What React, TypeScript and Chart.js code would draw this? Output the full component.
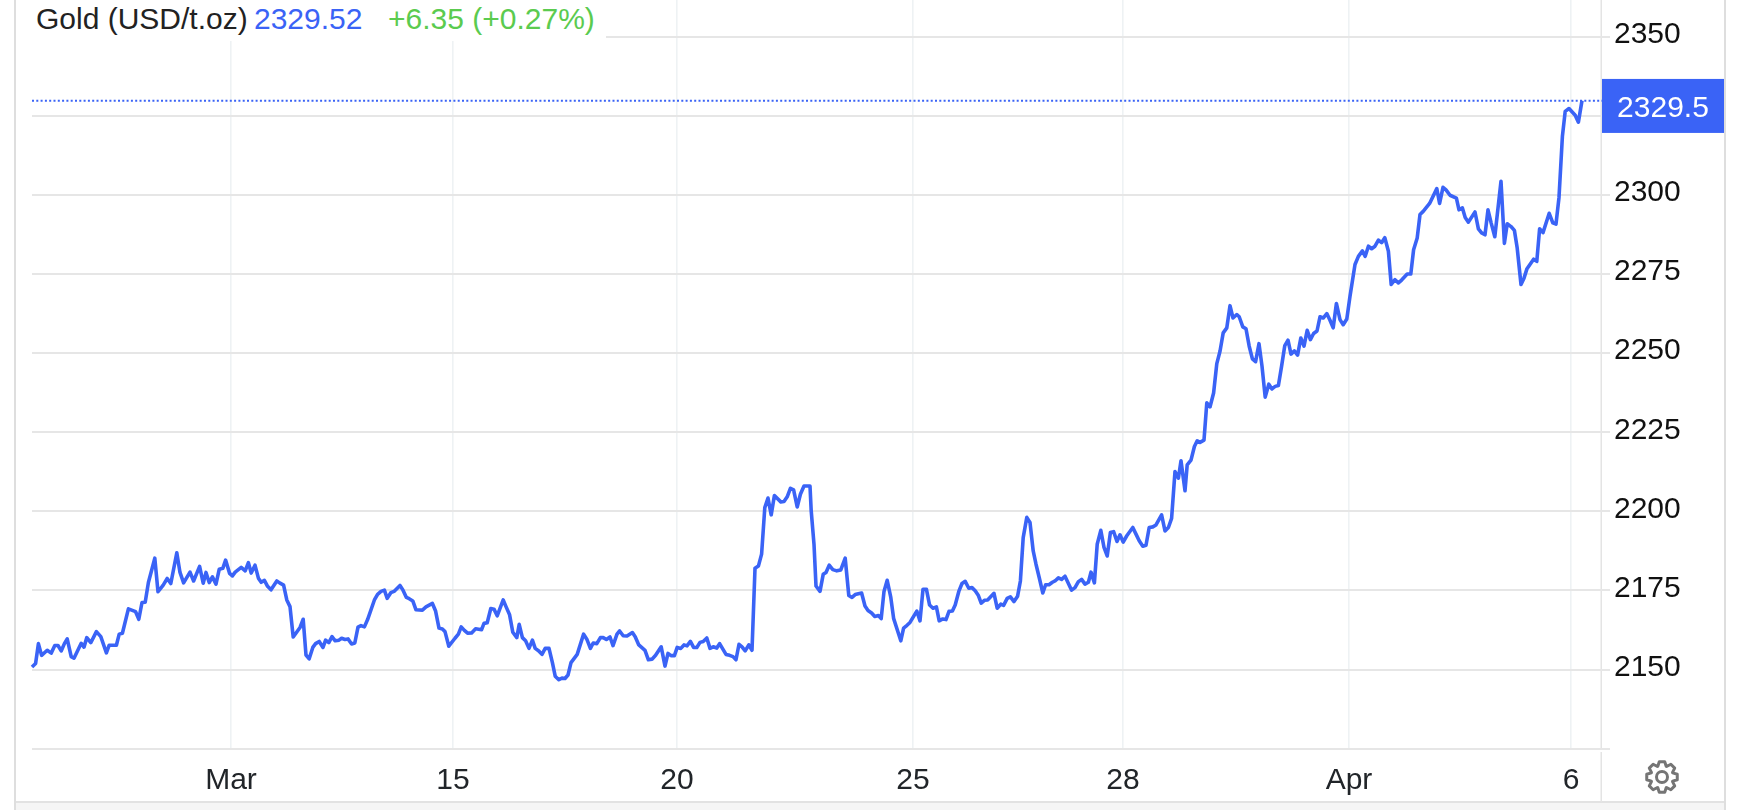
import React, { useEffect, useRef } from "react";
import { Chart, registerables } from "chart.js";

Chart.register(...registerables);

// [position on the time axis, price in USD/t.oz]
const seriesA: [number, number][] = [
  [0,2150.8],[0.9,2151.9],[1.6,2158.2],[2.4,2154.5],[3.8,2156.1],[4.8,2155.2],[5.7,2157.6],[6.5,2157.6],[7.3,2155.9],[8.1,2158.2],
  [8.8,2159.7],[9.8,2154.1],[10.5,2153.6],[12.3,2158.3],[13,2157.1],[13.7,2160.1],[14.7,2158.5],[16.1,2162],[17.2,2160.4],[18.6,2155.3],
  [19.3,2157.7],[21.1,2157.7],[21.8,2161.2],[22.6,2161.5],[24.1,2169.2],[25.9,2168.3],[26.7,2165.9],[27.5,2171.2],[28.3,2171.3],[29.1,2177.5],
  [30.7,2185.2],[31.5,2174.6],[32.8,2176.7],[33.8,2178.8],[34.7,2177.2],[36.2,2186.9],[37,2180.7],[37.9,2177.4],[39.5,2180.8],[40.4,2178],
  [41.9,2182.6],[42.8,2177.3],[43.5,2180.7],[44.3,2177.5],[45.1,2179.3],[46,2177],[46.8,2181.7],[47.7,2182],[48.4,2184.6],[49.4,2180.4],
];
const seriesB: [number, number][] = [
  [50.1,2179.6],[50.8,2180.8],[52.3,2182.3],[53.3,2181.2],[54.1,2183.8],[54.8,2180.5],[55.75,2183],[56.6,2178.9],[57.3,2177.6],[58.1,2178.2],
  [58.9,2176.3],[59.75,2175.2],[61.2,2178],[61.9,2177.4],[62.9,2176.7],[63.7,2172],[64.5,2169.9],[65.3,2160.3],[66.2,2161.9],[67,2163.3],
  [67.8,2165.9],[68.5,2154.6],[69.3,2153.4],[70.2,2157],[70.9,2158.2],[71.8,2158.9],[72.75,2157],[73.4,2159.3],[74.2,2158.5],[75,2160.4],
  [75.8,2159.1],[76.75,2159.3],[77.4,2159.9],[78.25,2159.5],[79,2159.7],[79.9,2158.1],[80.7,2158.4],[81.5,2163.4],[82.25,2163.9],[83.1,2163.5],
  [83.9,2165.8],[85.6,2172],[86.4,2173.8],[87.25,2174.7],[88.1,2175.1],[88.8,2172.5],[89.7,2174.3],[90.5,2174.7],[92,2176.6],[92.75,2175.1],
  [93.6,2172.8],[94.3,2172.4],[95.2,2171.7],[96,2168.9],[97.6,2168.8],
];
const seriesC: [number, number][] = [
  [98.5,2169.8],[100.1,2170.9],[100.9,2168.5],[101.75,2163.1],[102.6,2162.8],[103.25,2162],[104.2,2157.4],[105.75,2159.9],[106.6,2161.2],[107.3,2163.5],
  [108.1,2162.4],[108.9,2161.5],[109.9,2161.6],[110.9,2162.9],[112.4,2162.6],[113,2164.6],[113.8,2164.8],[114.7,2169.3],[115.5,2169.1],[116.3,2167],
  [117.8,2172],[118.5,2169.9],[119.4,2167.3],[120.2,2161.8],[121.2,2160.1],[121.8,2164.3],[122.6,2160.1],[123.4,2159.1],[124.25,2156.7],[125.1,2159.3],
  [125.8,2156.7],[126.7,2155.9],[127.5,2154.8],[128.3,2156.7],[129.25,2156.7],[130.1,2152.2],[130.8,2147.9],[131.7,2146.8],[132.5,2147.3],[133.25,2147.2],
  [134,2148.3],[134.75,2152.2],[136.3,2154.8],[137.9,2161.2],[138.7,2159.6],[139.6,2156.7],[140.3,2158.4],[141.2,2158.2],[142.1,2160.1],[142.8,2160.1],
  [143.6,2159.5],[144.5,2160.3],[145.25,2157.6],[146.25,2161.2],
];
const seriesD: [number, number][] = [
  [146.9,2162.2],[147.8,2160.7],[148.75,2160.6],[150.1,2161.7],[150.8,2160.4],[151.7,2157.8],[153.25,2156.1],[154.1,2153.1],[155,2153.3],[155.9,2154.5],
  [157.3,2157.2],[158.25,2151.1],[159,2155.1],[159.75,2154.4],[160.6,2154.4],[161.3,2157],[162.2,2156.7],[163,2157.8],[163.75,2157.5],[164.6,2158.9],
  [165.4,2157],[166.2,2157],[167,2158.6],[167.8,2158.9],[168.7,2160],[169.5,2156.7],[170.3,2157.2],[171.2,2156.8],[171.9,2158.2],[173.5,2154.8],
  [174.4,2154.5],[175.25,2154.1],[176,2153.1],[176.75,2158],[177.5,2157.2],[178.3,2155.9],[179.2,2157.8],[180,2156.1],[180.75,2182],[181.6,2182.7],
  [182.4,2186.5],[183.2,2201.2],[184,2204.2],[184.8,2198.9],[185.6,2205],[187.2,2203],[188,2203.1],[188.8,2204.6],[189.6,2207.3],[190.4,2206.8],
  [191.3,2201.4],[192.1,2205.4],[193,2208],[194.5,2208],
];
const seriesE: [number, number][] = [
  [194.8,2200.2],[195.5,2189.6],[196,2176.4],[197,2174.7],[197.8,2180.1],[198.5,2180.7],[199.3,2183],[200.2,2181.6],[201.2,2181.2],[202.2,2181.5],
  [203.3,2185.2],[204.2,2173.4],[205,2172.8],[205.8,2173.7],[207.4,2174.2],[208.25,2170.1],[209,2168.7],[209.9,2167.9],[210.7,2166.8],[211.6,2167.1],
  [212.3,2166.1],[213,2174.7],[213.8,2178.2],[214.7,2172.8],[215.4,2166.2],[217.2,2159.1],[217.9,2163.1],[218.75,2164],[219.5,2164.9],[221.2,2168.5],
  [222,2165.4],[222.75,2175.4],[223.6,2175.4],[224.4,2170.4],[225.25,2169.4],[226.1,2169.8],[226.8,2165.4],[227.7,2166],[228.5,2165.8],[229.25,2168.4],
  [230.1,2168.5],[230.8,2170.4],[231.7,2174.7],[232.5,2177.2],[233.3,2177.9],[234.2,2175.7],[235,2175.9],[235.8,2174.9],[236.6,2173.4],[237.3,2171],
  [238.1,2171.9],[238.9,2172],[240.5,2174.1],[241.3,2169.4],[242.2,2170.7],[242.9,2170.3],[243.8,2172.5],[244.6,2173],
];
const seriesF: [number, number][] = [
  [245.5,2171.5],[246.4,2173.2],[247.1,2178],[247.8,2191.7],[248.7,2198.1],[249.5,2196.5],[250.3,2187.5],[251,2183.3],[251.8,2179.1],[252.7,2174.2],
  [253.4,2176.8],[254.25,2176.8],[255.1,2177.6],[255.75,2178],[256.6,2179],[257.4,2178.5],[258.25,2179.5],[259.9,2175.1],[260.75,2175.9],[261.6,2177.8],
  [262.4,2178.5],[263.25,2177],[264.1,2177.6],[264.75,2180.8],[265.6,2177.4],[266.3,2189.6],[267.2,2194],[268,2188.6],[268.8,2185.9],[269.6,2193.3],
  [270.4,2193.6],[271.25,2190.5],[272,2192.6],[272.8,2190.3],[273.7,2192.3],[275.2,2194.9],[276,2192.8],[276.8,2190.7],[277.7,2189],[278.5,2189.3],
  [279.3,2194.9],[280.2,2195.1],[281,2195.7],[282.4,2198.9],[283.25,2193.8],[284.1,2194.9],[284.9,2197.8],[285.75,2212.6],[286.6,2210.5],[287.25,2216],
  [288.25,2206.5],[288.8,2214.7],[289.75,2216.2],[290.6,2220.5],[291.3,2222.3],
];
const seriesG: [number, number][] = [
  [292,2221.8],[293,2222.5],[293.7,2234.3],[294.5,2233],[295.4,2237.4],[296.2,2246.7],[297,2250.6],[297.8,2256.4],[298.7,2258],[299.5,2265],
  [300.25,2261.1],[301.2,2262.2],[301.8,2261.5],[302.7,2258.3],[303.5,2257.7],[304.3,2252.2],[305.1,2248.2],[305.9,2247.3],[306.75,2253],[307.5,2245.9],
  [308.3,2236.1],[309.2,2240.2],[310,2238.7],[310.8,2239.5],[311.6,2239.8],[312.4,2245.9],[313.2,2252.4],[314,2254.1],[314.75,2249.7],[315.6,2250.7],
  [316.4,2249.4],[317.2,2254.8],[318,2252.2],[318.8,2257.2],[319.6,2254.3],[320.4,2256.2],[321.25,2257],[322,2261.5],[322.8,2261.1],[323.7,2262.5],
  [324.5,2260.4],[325.3,2258],[326.1,2265.7],[327,2260.6],[327.8,2259],[328.7,2260.8],[329.5,2268],[330.75,2278],[331.6,2280.6],[332.6,2282.3],
  [333.3,2280.6],[334.1,2283.8],[334.9,2283],[335.75,2283.8],[336.6,2285.7],[337.4,2284.9],[338.2,2286.5],[339.1,2282.2],[339.8,2271.7],
];
const seriesH: [number, number][] = [
  [340.75,2273.2],[341.6,2272.2],[342.4,2273.1],[343.8,2275],[344.7,2275],[345.4,2282.7],[346.3,2286.4],[347,2293.8],[347.8,2294.8],[349.4,2297.3],
  [351.2,2302],[351.9,2297.3],[352.75,2302.4],[353.5,2301.6],[354.5,2299.9],[356.1,2299],[356.75,2295.3],[357.6,2295.9],[358.3,2292.9],[359.1,2291.4],
  [360.75,2294.6],[361.6,2289.3],[362.4,2288],[363.25,2287.4],[364,2295.3],[364.8,2291.1],[365.7,2286.8],[367.25,2304.3],[368.1,2284.7],[368.8,2290.9],
  [369.75,2290],[370.6,2288.8],[371.3,2283.2],[372.25,2271.7],[373,2273.7],[373.75,2276.7],[375.4,2279.7],[376.2,2279],[376.9,2289.3],[377.75,2288.1],
  [379.3,2294.2],[380.2,2291.2],[381,2290.8],[381.75,2299.2],[382.6,2318.5],[383.3,2326.4],[384.25,2327.3],[385.8,2325.2],[386.6,2323],[387.5,2329.8],
];

const xTickPositions = [49.75, 105.25, 161.25, 220.25, 272.75, 329.25, 384.75];
const xTickLabels = ["Mar", "15", "20", "25", "28", "Apr", "6"];
const yTickValues = [2125, 2150, 2175, 2200, 2225, 2250, 2275, 2300, 2325, 2350];
const yLabelledValues = [2150, 2175, 2200, 2225, 2250, 2275, 2300, 2350];
const lastPriceLine = 2329.8;
const lastPriceTag = "2329.5";
const headerName = "Gold (USD/t.oz)";
const headerPrice = "2329.52";
const headerChange = "+6.35 (+0.27%)";

const BLUE = "#3a63f6";
const FONT = '"Liberation Sans", Arial, sans-serif';

const framePlugin = {
  id: "frame",
  beforeDraw(chart: any) {
    const c = chart.ctx;
    c.save();
    c.fillStyle = "#f5f5f5";
    c.fillRect(15, 802, 1710, 8);
    c.fillStyle = "#e2e2e2";
    c.fillRect(15, 801, 1710, 2);
    c.fillStyle = "#dedede";
    c.fillRect(14, 0, 2, 810);
    c.fillRect(1724, 0, 2, 810);
    c.fillStyle = "#e4e4e4";
    c.fillRect(1600.5, 0, 1.5, 748);
    c.fillRect(1600.5, 752, 1.5, 50);
    c.restore();
  },
  afterDraw(chart: any) {
    const c = chart.ctx;
    const y = chart.scales.y.getPixelForValue(lastPriceLine);
    c.save();
    c.fillStyle = BLUE;
    c.fillRect(1602, y - 21.7, 122, 54);
    c.fillStyle = "#ffffff";
    c.font = `30px ${FONT}`;
    c.textAlign = "center";
    c.textBaseline = "middle";
    c.fillText(lastPriceTag, 1663, y + 8);
    // settings cog
    const cx = 1662, cy = 777, teeth = 8;
    c.strokeStyle = "#757575";
    c.lineWidth = 3;
    c.lineJoin = "round";
    c.beginPath();
    for (let i = 0; i < teeth; i++) {
      const a = (i / teeth) * Math.PI * 2 - Math.PI / 2;
      const s = Math.PI / teeth;
      const pts: [number, number][] = [
        [a - s * 0.95, 11.5], [a - s * 0.45, 15.5], [a + s * 0.45, 15.5], [a + s * 0.95, 11.5],
      ];
      pts.forEach(([t, r], j) => {
        const px = cx + Math.cos(t) * r, py = cy + Math.sin(t) * r;
        if (i === 0 && j === 0) c.moveTo(px, py); else c.lineTo(px, py);
      });
    }
    c.closePath();
    c.stroke();
    c.beginPath();
    c.arc(cx, cy, 5.5, 0, Math.PI * 2);
    c.stroke();
    c.restore();
  },
};

const noEdgePadding = (s: any) => {
  s.paddingTop = 0;
  s.paddingBottom = 0;
  s.paddingLeft = 0;
  s.paddingRight = 0;
};

export default function App() {
  const ref = useRef<HTMLCanvasElement>(null);
  useEffect(() => {
    const points = [...seriesA, ...seriesB, ...seriesC, ...seriesD, ...seriesE, ...seriesF, ...seriesG, ...seriesH];
    const chart = new Chart(ref.current!, {
      type: "line",
      data: {
        datasets: [
          {
            label: "Gold",
            data: points.map(([x, y]) => ({ x, y })),
            borderColor: BLUE,
            borderWidth: 3.6,
            pointRadius: 0,
            tension: 0,
            borderJoinStyle: "round",
            fill: false,
            clip: false,
          },
          {
            label: "Last",
            data: [{ x: 0, y: lastPriceLine }, { x: 392.5, y: lastPriceLine }],
            borderColor: BLUE,
            borderWidth: 2,
            borderDash: [2, 2.3],
            pointRadius: 0,
            fill: false,
            clip: false,
          },
        ],
      },
      options: {
        responsive: false,
        animation: false,
        devicePixelRatio: 1,
        layout: { padding: { left: 32, right: 0, top: 0, bottom: 0 } },
        plugins: { legend: { display: false }, tooltip: { enabled: false } },
        scales: {
          x: {
            type: "linear",
            min: 0,
            max: 391.25,
            afterFit: (s: any) => { s.height = 61.3; noEdgePadding(s); },
            afterBuildTicks: (s: any) => { s.ticks = xTickPositions.map((value) => ({ value })); },
            border: { display: false },
            grid: { color: "#eef2f4", lineWidth: 1.6, drawTicks: false },
            ticks: {
              autoSkip: false,
              maxRotation: 0,
              minRotation: 0,
              padding: 14,
              color: "#212529",
              font: { family: FONT, size: 30 },
              callback: (_v: any, i: number) => xTickLabels[i],
            },
          },
          y: {
            type: "linear",
            position: "right",
            min: 2125,
            max: 2361.6,
            afterFit: (s: any) => { s.width = 145; noEdgePadding(s); },
            afterBuildTicks: (s: any) => { s.ticks = yTickValues.map((value) => ({ value })); },
            border: { display: false },
            grid: { color: "#e6e6e6", lineWidth: 2, tickLength: 13, z: 0 },
            ticks: {
              autoSkip: false,
              padding: 4,
              labelOffset: -2,
              color: "#111111",
              font: { family: FONT, size: 30 },
              callback: (v: any) => (yLabelledValues.includes(v) ? String(v) : ""),
            },
          },
        },
      },
      plugins: [framePlugin],
    } as any);
    return () => chart.destroy();
  }, []);

  const span = (left: number, color: string, text: string) => (
    <span style={{ position: "absolute", left, top: 0, color, whiteSpace: "nowrap" }}>{text}</span>
  );

  return (
    <div style={{ position: "absolute", left: 0, top: 0, width: 1742, height: 810, background: "#fff", overflow: "hidden" }}>
      <canvas ref={ref} width={1742} height={810} style={{ position: "absolute", left: 0, top: 0, width: 1742, height: 810 }} />
      <div style={{ position: "absolute", left: 32, top: 0, width: 574, height: 41, background: "#fff" }} />
      <div style={{ position: "absolute", left: 0, top: 2, width: 700, height: 36, font: `30px/34px ${FONT}` }}>
        {span(36, "#222222", headerName)}
        {span(254, BLUE, headerPrice)}
        {span(388, "#5bcb4f", headerChange)}
      </div>
    </div>
  );
}
